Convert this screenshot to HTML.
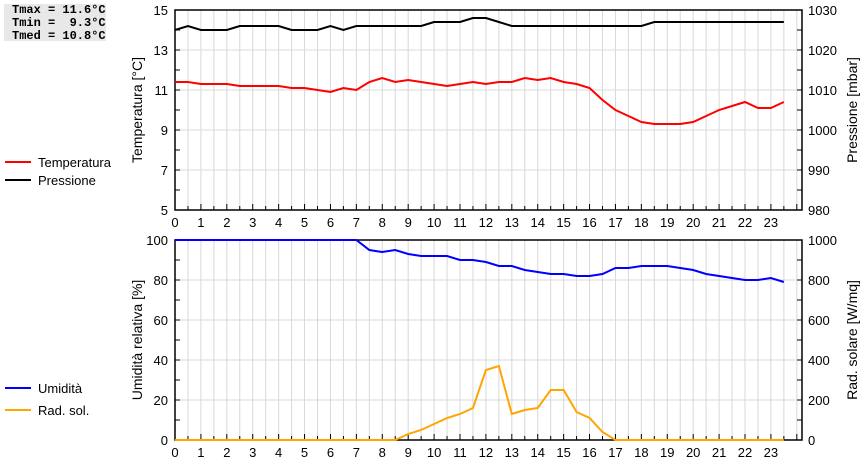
<!DOCTYPE html>
<html><head><meta charset="utf-8"><style>
body{margin:0;background:#fff;width:860px;height:460px;overflow:hidden;font-family:"Liberation Sans",sans-serif}
#stats{position:absolute;left:4px;top:4px;width:102px;height:37px;background:#e8e8e8;font:bold 12px "Liberation Mono",monospace;line-height:13px;padding:0 0 0 8px;box-sizing:border-box;white-space:pre}
svg{position:absolute;left:0;top:0}
</style></head><body>
<div id="stats">Tmax = 11.6°C
Tmin =  9.3°C
Tmed = 10.8°C</div>
<svg id="c" width="860" height="460"></svg>
<script>
const hours=[0,0.5,1,1.5,2,2.5,3,3.5,4,4.5,5,5.5,6,6.5,7,7.5,8,8.5,9,9.5,10,10.5,11,11.5,12,12.5,13,13.5,14,14.5,15,15.5,16,16.5,17,17.5,18,18.5,19,19.5,20,20.5,21,21.5,22,22.5,23,23.5];
const temperature=[11.4,11.4,11.3,11.3,11.3,11.2,11.2,11.2,11.2,11.1,11.1,11.0,10.9,11.1,11.0,11.4,11.6,11.4,11.5,11.4,11.3,11.2,11.3,11.4,11.3,11.4,11.4,11.6,11.5,11.6,11.4,11.3,11.1,10.5,10.0,9.7,9.4,9.3,9.3,9.3,9.4,9.7,10.0,10.2,10.4,10.1,10.1,10.4];
const pressure=[1025,1026,1025,1025,1025,1026,1026,1026,1026,1025,1025,1025,1026,1025,1026,1026,1026,1026,1026,1026,1027,1027,1027,1028,1028,1027,1026,1026,1026,1026,1026,1026,1026,1026,1026,1026,1026,1027,1027,1027,1027,1027,1027,1027,1027,1027,1027,1027];
const humidity=[100,100,100,100,100,100,100,100,100,100,100,100,100,100,100,95,94,95,93,92,92,92,90,90,89,87,87,85,84,83,83,82,82,83,86,86,87,87,87,86,85,83,82,81,80,80,81,79];
const radiation=[0,0,0,0,0,0,0,0,0,0,0,0,0,0,0,0,0,0,30,50,80,110,130,160,350,370,130,150,160,250,250,140,110,40,0,0,0,0,0,0,0,0,0,0,0,0,0,0];
const xTicks=[0,1,2,3,4,5,6,7,8,9,10,11,12,13,14,15,16,17,18,19,20,21,22,23];
const tTicks=[5,7,9,11,13,15];
const pTicks=[980,990,1000,1010,1020,1030];
const hTicks=[0,20,40,60,80,100];
const rTicks=[0,200,400,600,800,1000];

const svg=document.getElementById('c');const NS='http://www.w3.org/2000/svg';
function el(t,a,p){const e=document.createElementNS(NS,t);for(const k in a)e.setAttribute(k,a[k]);(p||svg).appendChild(e);return e;}
const X0=175,X1=802,XMAX=24.2;
const x=h=>X0+h*(X1-X0)/XMAX;
function panel(top,bot,lmin,lmax,rmin,rmax,lt,rt,ltitle,rtitle,nm){
  const g=el('g',{});
  
  
  const yl=v=>bot-(v-lmin)/(lmax-lmin)*(bot-top);
  const yr=v=>bot-(v-rmin)/(rmax-rmin)*(bot-top);
  for(let h=0.5;h<24.1;h+=0.5){el('line',{x1:x(h),x2:x(h),y1:top,y2:bot,stroke:'#d8d8d8','stroke-width':1},g);
    el('line',{x1:x(h),x2:x(h),y1:bot,y2:bot-(h%1==0?6:4),stroke:'#000'},g);}
  const step=(bot-top)/10;
  for(let i=1;i<10;i++){const yy=top+i*step;
    if(i%2==0)el('line',{x1:X0,x2:X1,y1:yy,y2:yy,stroke:'#d8d8d8'},g);
    el('line',{x1:X0,x2:X0+5,y1:yy,y2:yy,stroke:'#000'},g);
    el('line',{x1:X1-5,x2:X1,y1:yy,y2:yy,stroke:'#000'},g);}
  el('rect',{x:X0,y:top,width:X1-X0,height:bot-top,fill:'none',stroke:'#000','stroke-width':1.5},g);
  lt.forEach(v=>{const t=el('text',{x:168,y:yl(v)+5,'text-anchor':'end','font-size':13},g);t.textContent=v;});
  rt.forEach(v=>{const t=el('text',{x:808,y:yr(v)+5,'font-size':13},g);t.textContent=v;});
  xTicks.forEach(v=>{const t=el('text',{x:x(v),y:bot+17,'text-anchor':'middle','font-size':13},g);t.textContent=v;});
  const cy=(top+bot)/2;
  let t=el('text',{x:0,y:0,transform:`translate(142,${cy}) rotate(-90)`,'text-anchor':'middle','font-size':14},g);t.textContent=ltitle;
  
  t=el('text',{x:0,y:0,transform:`translate(857,${cy}) rotate(-90)`,'text-anchor':'middle','font-size':14},g);t.textContent=rtitle;
  
  return {yl,yr};
}
function line(vals,yf,col,nm){const p=el('polyline',{points:vals.map((v,i)=>x(hours[i])+','+yf(v)).join(' '),fill:'none',stroke:col,'stroke-width':2});
  
  }
const A=panel(10,210,5,15,980,1030,tTicks,pTicks,'Temperatura [°C]','Pressione [mbar]','top');
line(pressure,A.yr,'#000','pressure-line');
line(temperature,A.yl,'#f00','temperature-line');
const B=panel(240,440,0,100,0,1000,hTicks,rTicks,'Umidità relativa [%]','Rad. solare [W/mq]','bottom');
line(radiation,B.yr,'#ffa500','radiation-line');
line(humidity,B.yl,'#00f','humidity-line');
function legend(y,col,txt,nm){const g=el('g',{});
  
  
  el('line',{x1:5,x2:31,y1:y,y2:y,stroke:col,'stroke-width':2},g);
  const t=el('text',{x:38,y:y+5,'font-size':13},g);t.textContent=txt;}
legend(162,'#f00','Temperatura','legend-temperature');
legend(180,'#000','Pressione','legend-pressure');
legend(388,'#00f','Umidità','legend-humidity');
legend(410,'#ffa500','Rad. sol.','legend-radiation');
</script>
</body></html>
